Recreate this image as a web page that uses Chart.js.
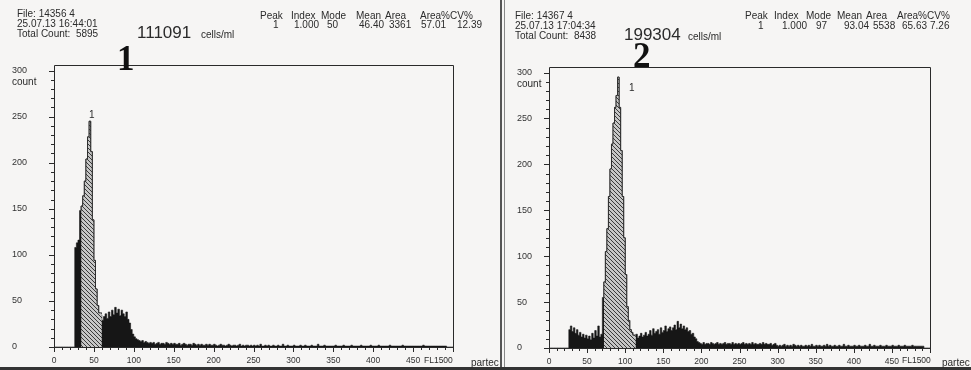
<!DOCTYPE html>
<html><head><meta charset="utf-8">
<script src="https://cdn.jsdelivr.net/npm/chart.js@4.4.0/dist/chart.umd.min.js"></script>
<style>
html,body{margin:0;padding:0;}
body{width:971px;height:370px;background:#f6f5f4;position:relative;overflow:hidden;font-family:'Liberation Sans',Arial,sans-serif;color:#2b2b2b;}
.t{position:absolute;white-space:pre;line-height:1;font-size:10px;}
.h{font-size:10px;}
.big{font-size:17px;}
.num{position:absolute;line-height:1;font-family:'Liberation Serif','Times New Roman',serif;font-weight:bold;font-size:35px;color:#111;}
canvas{position:absolute;top:0;}
.vline{position:absolute;top:0;height:370px;background:#555;}
.bline{position:absolute;left:0;width:971px;top:367px;height:3px;background:#333;}
</style>
</head><body>

<canvas id="c1" width="500" height="370" style="left:0;width:500px;height:370px"></canvas>
<canvas id="c2" width="468" height="370" style="left:503px;width:468px;height:370px"></canvas>

<div class="vline" style="left:500px;width:2px"></div>
<div class="vline" style="left:504px;width:1px;background:#888"></div>
<div class="bline"></div>

<!-- panel 1 texts -->
<div class="t" style="left:17px;top:9px">File: 14356 4</div>
<div class="t" style="left:17px;top:19px">25.07.13 16:44:01</div>
<div class="t" style="left:17px;top:29px">Total Count:  5895</div>
<div class="t big" style="left:137px;top:24px">111091</div>
<div class="t h" style="left:201px;top:30px">cells/ml</div>
<div class="num" style="left:117px;top:41px">1</div>
<div class="t h" style="left:260px;top:11px">Peak</div>
<div class="t h" style="left:291px;top:11px">Index</div>
<div class="t h" style="left:321px;top:11px">Mode</div>
<div class="t h" style="left:356px;top:11px">Mean</div>
<div class="t h" style="left:385px;top:11px">Area</div>
<div class="t h" style="left:420px;top:11px">Area%CV%</div>
<div class="t h" style="left:273px;top:20px">1</div>
<div class="t h" style="left:294px;top:20px">1.000</div>
<div class="t h" style="left:327px;top:20px">50</div>
<div class="t h" style="left:359px;top:20px">46.40</div>
<div class="t h" style="left:389px;top:20px">3361</div>
<div class="t h" style="left:421px;top:20px">57.01</div>
<div class="t h" style="left:457px;top:20px">12.39</div>
<div class="t h" style="left:12px;top:77px">count</div>
<div class="t h" style="left:89px;top:110px">1</div>
<div class="t" style="left:424px;top:356px;font-size:8.5px">FL1500</div>
<div class="t" style="left:471px;top:358px">partec</div>

<!-- panel 2 texts -->
<div class="t" style="left:515px;top:11px">File: 14367 4</div>
<div class="t" style="left:515px;top:21px">25.07.13 17:04:34</div>
<div class="t" style="left:515px;top:31px">Total Count:  8438</div>
<div class="t big" style="left:624px;top:26px">199304</div>
<div class="t h" style="left:688px;top:32px">cells/ml</div>
<div class="num" style="left:633px;top:38px">2</div>
<div class="t h" style="left:745px;top:11px">Peak</div>
<div class="t h" style="left:774px;top:11px">Index</div>
<div class="t h" style="left:806px;top:11px">Mode</div>
<div class="t h" style="left:837px;top:11px">Mean</div>
<div class="t h" style="left:866px;top:11px">Area</div>
<div class="t h" style="left:897px;top:11px">Area%CV%</div>
<div class="t h" style="left:758px;top:21px">1</div>
<div class="t h" style="left:782px;top:21px">1.000</div>
<div class="t h" style="left:816px;top:21px">97</div>
<div class="t h" style="left:844px;top:21px">93.04</div>
<div class="t h" style="left:873px;top:21px">5538</div>
<div class="t h" style="left:902px;top:21px">65.63</div>
<div class="t h" style="left:930px;top:21px">7.26</div>
<div class="t h" style="left:517px;top:79px">count</div>
<div class="t h" style="left:629px;top:83px">1</div>
<div class="t" style="left:902px;top:356px;font-size:8.5px">FL1500</div>
<div class="t" style="left:942px;top:358px">partec</div>

<script>
// ---- data (2-channel bins, FL1 channel 0..500) ----
const BIN_WIDTH = 2;
const xTickValues = [0, 50, 100, 150, 200, 250, 300, 350, 400, 450];
const yTickValues = [0, 50, 100, 150, 200, 250, 300];

// sample 1 counts per 2-channel bin
const counts1 = [
  0,0,0,0,0,0,0,0,0,0,0,0,0,0,108,113,116,148,153,164,180,204,228,245,212,
  138,94,63,45,37,35,29,33,36,31,38,33,40,35,43,37,41,34,40,36,33,38,30,26,19,
  14,11,9,8,7,6,7,5,6,5,4,5,4,5,3,4,5,3,4,4,3,5,4,3,4,
  3,4,3,3,4,2,3,4,3,2,3,3,2,4,3,2,3,2,3,2,2,3,2,3,2,
  2,3,2,1,2,3,2,2,1,2,3,2,1,2,2,1,2,3,1,2,1,2,2,1,2,
  1,2,1,2,1,3,1,1,2,1,2,1,1,2,1,1,2,1,1,3,1,1,2,1,1,
  1,2,1,1,1,2,1,1,2,1,1,1,2,1,1,1,3,1,1,1,2,1,1,1,1,
  1,1,2,1,1,1,1,2,1,1,1,1,2,1,1,1,1,1,2,1,1,1,1,1,2,
  1,1,1,1,2,1,1,1,1,1,1,2,1,1,1,1,1,1,1,2,1,1,1,1,1,
  1,1,1,1,1,1,1,2,1,1,1,1,1,1,1,1,1,1,1,1,1,1,0,0,0
];
// sample 2 counts per 2-channel bin
const counts2 = [
  0,0,0,0,0,0,0,0,0,0,0,0,0,0,20,24,18,22,16,20,14,17,12,15,11,
  14,10,13,9,16,11,19,13,24,12,15,55,72,105,130,165,195,222,245,262,275,295,262,215,165,
  120,80,45,30,20,17,14,10,15,11,13,16,12,14,17,13,15,19,14,21,16,18,20,15,22,
  17,19,24,18,21,23,19,22,25,20,29,22,26,21,24,20,22,18,19,15,16,12,10,7,6,
  5,4,6,4,5,5,4,6,5,4,5,6,4,5,4,5,6,4,5,5,4,6,4,5,4,
  5,4,5,6,4,5,4,5,4,6,4,5,4,4,5,4,6,4,5,4,4,5,3,4,5,
  3,2,3,2,3,4,2,3,2,3,2,4,3,2,3,2,3,2,2,3,2,3,2,4,2,
  2,3,2,3,2,2,3,2,4,2,3,2,2,3,2,2,3,2,2,4,2,2,3,2,2,
  2,3,2,2,3,2,2,2,3,2,2,4,2,2,3,2,2,2,3,2,2,2,3,2,2,
  2,3,2,2,2,3,2,2,2,3,2,2,2,2,3,2,2,2,2,2,2,2,0,0,0
];
// gated (hatched) channel ranges [start, end)
const gate1 = [34, 60];
const gate2 = [72, 114];

// ---- rendering ----
function hatchPattern() {
  const p = document.createElement('canvas');
  p.width = 4; p.height = 4;
  const c = p.getContext('2d');
  c.fillStyle = '#c6c6c6';
  c.fillRect(0, 0, 4, 4);
  c.strokeStyle = '#3a3a3a';
  c.lineWidth = 1;
  c.beginPath();
  c.moveTo(0, 0); c.lineTo(4, 4);
  c.moveTo(-1, 3); c.lineTo(1, 5);
  c.moveTo(3, -1); c.lineTo(5, 1);
  c.stroke();
  return c.createPattern(p, 'repeat');
}

const framePlugin = {
  id: 'frame',
  afterDraw(chart) {
    const { ctx, chartArea: a, scales: { x, y } } = chart;
    ctx.save();
    ctx.strokeStyle = '#2a2a2a';
    ctx.lineWidth = 1;
    ctx.beginPath();
    ctx.rect(Math.round(a.left) + 0.5, Math.round(a.top) + 0.5,
             Math.round(a.right - a.left), Math.round(a.bottom - a.top));
    for (let v = 0; v <= 300; v += 10) {
      const py = Math.round(y.getPixelForValue(v)) + 0.5;
      const len = v % 50 === 0 ? 5 : 3;
      ctx.moveTo(Math.round(a.left) - len, py);
      ctx.lineTo(Math.round(a.left), py);
    }
    for (let v = 0; v <= 500; v += 10) {
      const px = Math.round(x.getPixelForValue(v)) + 0.5;
      const len = v % 50 === 0 ? 5 : 3;
      ctx.moveTo(px, Math.round(a.bottom));
      ctx.lineTo(px, Math.round(a.bottom) + len);
    }
    ctx.stroke();
    ctx.restore();
  }
};

function makeChart(id, counts, gate, pad, yW, xH) {
  const pattern = hatchPattern();
  // step histogram: each point is a bin start; value holds over the bin
  const all = counts.map((v, i) => ({ x: i * BIN_WIDTH, y: v }));
  all.push({ x: counts.length * BIN_WIDTH, y: counts[counts.length - 1] });
  const gated = [];
  counts.forEach((v, i) => {
    const s = i * BIN_WIDTH;
    if (s >= gate[0] && s < gate[1]) gated.push({ x: s, y: v });
  });
  gated.push({ x: gate[1], y: gated[gated.length - 1].y });
  return new Chart(document.getElementById(id), {
    type: 'line',
    data: {
      datasets: [
        {
          data: gated, stepped: 'after', fill: 'origin',
          backgroundColor: pattern, borderColor: '#2e2e2e', borderWidth: 1,
          pointRadius: 0, tension: 0
        },
        {
          data: all, stepped: 'after', fill: 'origin',
          backgroundColor: '#161616', borderColor: '#161616', borderWidth: 0.6,
          pointRadius: 0, tension: 0
        }
      ]
    },
    options: {
      responsive: false,
      devicePixelRatio: 1,
      animation: false,
      events: [],
      layout: { padding: pad },
      plugins: { legend: { display: false }, tooltip: { enabled: false } },
      scales: {
        x: {
          type: 'linear', min: 0, max: 500, offset: false,
          afterBuildTicks: (s) => { s.ticks = xTickValues.map(v => ({ value: v })); },
          afterFit: (s) => { s.height = xH; },
          grid: { display: false, drawTicks: false },
          border: { display: false },
          ticks: { color: '#333', font: { family: "'Liberation Sans', Arial", size: 8.5 }, padding: 9, maxRotation: 0, autoSkip: false }
        },
        y: {
          min: 0, max: 306,
          afterBuildTicks: (s) => { s.ticks = yTickValues.map(v => ({ value: v })); },
          afterFit: (s) => { s.width = yW; },
          grid: { display: false, drawTicks: false },
          border: { display: false },
          ticks: { color: '#333', font: { family: "'Liberation Sans', Arial", size: 9 }, crossAlign: 'far', padding: 0, autoSkip: false }
        }
      }
    },
    plugins: [framePlugin]
  });
}

makeChart('c1', counts1, gate1, { left: 12, right: 47, top: 65, bottom: 0 }, 42, 23);
makeChart('c2', counts2, gate2, { left: 14, right: 41, top: 67, bottom: 0 }, 32, 22);
</script>
</body></html>
